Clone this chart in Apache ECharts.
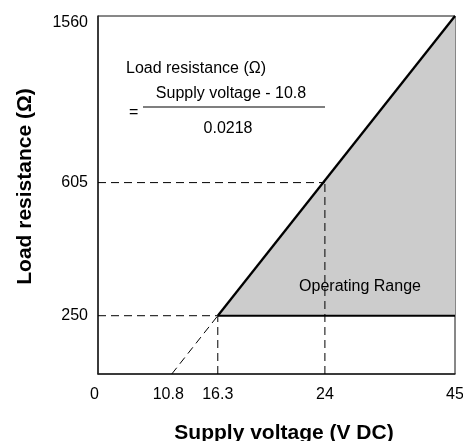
<!DOCTYPE html>
<html>
<head>
<meta charset="utf-8">
<script src="https://cdn.jsdelivr.net/npm/echarts@6/dist/echarts.min.js"></script>
<style>
  html, body { margin: 0; padding: 0; background: #fff; }
  #chart { width: 463px; height: 441px; }
</style>
</head>
<body>
<div id="chart"></div>
<script>
// tick values shown on the axes
const voltageTicks = [0, 10.8, 16.3, 24, 45]      // V DC
const loadTicks = [0, 250, 605, 1560]             // ohm (0 is not labelled)
// the figure is not drawn to scale: where each tick sits on the drawn axis
const voltageDrawnAt = [0, 9.3, 15.1, 28.6, 45]
const loadDrawnAt = [0, 254, 834, 1560]

// max load: R = (V - 10.8) / 0.0218, min load 250 ohm
const maxLoadExtrapolated = [[10.8, 0], [16.3, 250]]
const maxLoadLine = [[16.3, 250], [45, 1560]]
const minLoadLine = [[16.3, 250], [45, 250]]
// read-outs with guide lines to both axes
const readouts = [[16.3, 250], [24, 605]]

const FONT = '"Liberation Sans", Arial, Helvetica, sans-serif'

function xPos(v) { return voltageDrawnAt[voltageTicks.indexOf(v)] }
function yPos(r) { return loadDrawnAt[loadTicks.indexOf(r)] }
function toDrawn(pts) { return pts.map(p => [xPos(p[0]), yPos(p[1])]) }
function nearestLabel(val, drawn, ticks) {
  let best = 0
  drawn.forEach((d, i) => {
    if (Math.abs(d - val) < Math.abs(drawn[best] - val)) best = i
  })
  return String(ticks[best])
}

const dashed = { color: '#000', width: 1, type: [8, 5] }

let series = [
  {
    type: 'line',
    data: toDrawn(maxLoadLine),
    symbol: 'none',
    lineStyle: { color: '#000', width: 2.3 },
    areaStyle: { color: '#cccccc', opacity: 1, origin: yPos(250) },
    z: 2
  },
  {
    type: 'line',
    data: toDrawn(minLoadLine),
    symbol: 'none',
    lineStyle: { color: '#000', width: 2 },
    z: 4
  },
  {
    type: 'line',
    data: toDrawn(maxLoadExtrapolated),
    symbol: 'none',
    lineStyle: dashed,
    z: 3
  }
]
readouts.forEach(p => {
  series.push({
    type: 'line',
    data: toDrawn([[0, p[1]], p]),
    symbol: 'none',
    lineStyle: dashed,
    z: 3
  })
  series.push({
    type: 'line',
    data: toDrawn([[p[0], 0], p]),
    symbol: 'none',
    lineStyle: dashed,
    z: 3
  })
})

let myChart = echarts.init(document.getElementById('chart'))
let option = {
  animation: false,
  textStyle: { fontFamily: FONT },
  grid: {
    left: 98,
    right: 8,
    top: 16,
    bottom: 67,
    outerBoundsMode: 'none',
    containLabel: false,
    show: true,
    borderColor: '#111',
    borderWidth: 1
  },
  xAxis: {
    type: 'value',
    min: 0,
    max: 45,
    name: 'Supply voltage (V DC)',
    nameLocation: 'middle',
    nameGap: 49,
    nameTextStyle: {
      fontFamily: FONT, fontSize: 21, fontWeight: 'bold', color: '#000',
      padding: [0, 0, 0, 15]
    },
    axisLine: { lineStyle: { color: '#222', width: 1.5 } },
    axisTick: { show: false },
    splitLine: { show: false },
    axisLabel: {
      customValues: voltageDrawnAt,
      margin: 13,
      fontSize: 16,
      color: '#000',
      fontFamily: FONT,
      formatter: val => {
        let s = nearestLabel(val, voltageDrawnAt, voltageTicks)
        return (s === '0' || s === '10.8') ? '{l|' + s + '}' : s
      },
      rich: {
        l: { fontSize: 16, fontFamily: FONT, color: '#000', padding: [0, 7, 0, 0] }
      }
    }
  },
  yAxis: {
    type: 'value',
    min: 0,
    max: 1560,
    name: 'Load resistance (Ω)',
    nameLocation: 'middle',
    nameGap: 62,
    nameTextStyle: {
      fontFamily: FONT, fontSize: 21, fontWeight: 'bold', color: '#000',
      padding: [0, 0, 0, 17]
    },
    axisLine: { show: true, lineStyle: { color: '#222', width: 1.5 } },
    axisTick: { show: false },
    splitLine: { show: false },
    axisLabel: {
      customValues: loadDrawnAt.slice(1),
      margin: 10,
      fontSize: 16,
      color: '#000',
      fontFamily: FONT,
      formatter: val => {
        let s = nearestLabel(val, loadDrawnAt, loadTicks)
        return s === '1560' ? '{top|' + s + '}' : s
      },
      rich: {
        top: { fontSize: 16, fontFamily: FONT, color: '#000', padding: [14, 0, 0, 0] }
      }
    }
  },
  graphic: [
    {
      type: 'text', x: 126, y: 69,
      style: {
        text: 'Load resistance (Ω)', font: '16px ' + FONT, fill: '#000',
        align: 'left', verticalAlign: 'middle'
      }
    },
    {
      type: 'text', x: 129, y: 113,
      style: {
        text: '=', font: '16px ' + FONT, fill: '#000',
        align: 'left', verticalAlign: 'middle'
      }
    },
    {
      type: 'line',
      shape: { x1: 143, y1: 107, x2: 325, y2: 107 },
      style: { stroke: '#000', lineWidth: 1.2 }
    },
    {
      type: 'text', x: 231, y: 94,
      style: {
        text: 'Supply voltage - 10.8', font: '16px ' + FONT, fill: '#000',
        align: 'center', verticalAlign: 'middle'
      }
    },
    {
      type: 'text', x: 228, y: 129,
      style: {
        text: '0.0218', font: '16px ' + FONT, fill: '#000',
        align: 'center', verticalAlign: 'middle'
      }
    },
    {
      type: 'text', x: 360, y: 287, z: 10,
      style: {
        text: 'Operating Range', font: '16px ' + FONT, fill: '#000',
        align: 'center', verticalAlign: 'middle'
      }
    }
  ],
  series: series
}
myChart.setOption(option)
window.addEventListener('resize', function() {
  myChart.resize()
})
</script>
</body>
</html>
